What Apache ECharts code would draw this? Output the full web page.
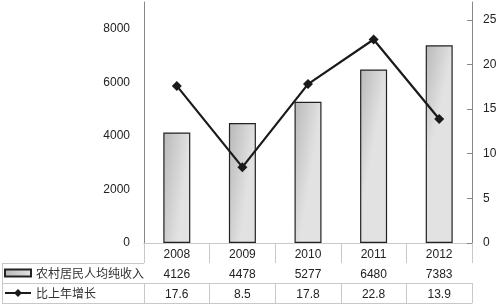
<!DOCTYPE html>
<html><head><meta charset="utf-8">
<script src="https://cdn.jsdelivr.net/npm/echarts@6/dist/echarts.min.js"></script>
<style>html,body{margin:0;padding:0;background:#fff}#c{width:500px;height:305px}</style>
</head><body><div id="c"></div>
<script>
var years = ['2008','2009','2010','2011','2012'];
var income = [4126, 4478, 5277, 6480, 7383];
var growth = [17.6, 8.5, 17.8, 22.8, 13.9];
var leftTicks = [0, 2000, 4000, 6000, 8000];
var rightTicks = [0, 5, 10, 15, 20, 25];
var incomeName = '农村居民人均纯收入';
var growthName = '比上年增长';

var FONT = '"Liberation Sans", Arial, sans-serif';
var CJK = '"Noto Sans CJK SC", sans-serif';
var tableLine = '#c8c8c8';
var chart = echarts.init(document.getElementById('c'), null, {renderer: 'canvas'});

function rowAxis(offset, fmt) {
  return {
    type: 'category', data: years, position: 'bottom', offset: offset, gridIndex: 0,
    axisLine: {show: true, lineStyle: {color: tableLine, width: 1}},
    axisTick: {show: true, interval: 0, length: 20, lineStyle: {color: tableLine}},
    axisLabel: {show: !!fmt, interval: 0, margin: 6, color: '#222', fontSize: 12, fontFamily: FONT,
      formatter: fmt || function (v) { return v; }},
    splitLine: {show: false}
  };
}

var barGrad = new echarts.graphic.LinearGradient(0, 0, 1, 0.03, [
  {offset: 0, color: '#b8b8b8'}, {offset: 1, color: '#e2e2e2'}
]);

var legendText = {fontSize: 12, fontFamily: CJK, color: '#333'};

chart.setOption({
  animation: false,
  grid: {left: 144, right: 28, top: 2, bottom: 62, containLabel: false},
  legend: [
    {orient: 'horizontal', left: 0, top: 267, itemWidth: 26, itemHeight: 7, itemGap: 2, padding: [0, 4],
      textStyle: legendText, data: [{name: incomeName, icon: 'rect'}]},
    {orient: 'horizontal', left: 0, top: 287, itemWidth: 26, itemHeight: 10, itemGap: 2, padding: [0, 4],
      textStyle: legendText, data: [{name: growthName}]}
  ],
  xAxis: [
    rowAxis(0, function (v) { return v; }),
    rowAxis(20, function (v) { return String(income[years.indexOf(v)]); }),
    rowAxis(40, function (v) { return String(growth[years.indexOf(v)]); }),
    {type: 'category', data: years, position: 'bottom', offset: 60,
      axisLine: {show: true, lineStyle: {color: tableLine}}, axisTick: {show: false}, axisLabel: {show: false}}
  ],
  yAxis: [
    {type: 'value', min: 0, max: 9000, interval: 1000, position: 'left',
      axisLine: {show: true, lineStyle: {color: '#888', width: 1}},
      axisTick: {show: false},
      axisLabel: {customValues: leftTicks, margin: 14, color: '#222', fontSize: 12, fontFamily: FONT,
        formatter: function (v) { return String(v); }},
      splitLine: {show: false}},
    {type: 'value', min: 0, max: 27, interval: 1, position: 'right',
      axisLine: {show: true, lineStyle: {color: '#888', width: 1}},
      axisTick: {show: true, inside: true, length: 5, customValues: rightTicks, lineStyle: {color: '#888'}},
      axisLabel: {customValues: rightTicks, margin: 11, color: '#222', fontSize: 12, fontFamily: FONT,
        formatter: function (v) { return String(v); }},
      splitLine: {show: false}}
  ],
  series: [
    {name: incomeName, type: 'bar', xAxisIndex: 0, yAxisIndex: 0, data: income, barWidth: 27,
      itemStyle: {color: barGrad, borderColor: '#222', borderWidth: 1.2}},
    {name: growthName, type: 'line', xAxisIndex: 0, yAxisIndex: 1, data: growth,
      symbol: 'diamond', symbolSize: 10, showSymbol: true,
      lineStyle: {color: '#1a1a1a', width: 2.2}, itemStyle: {color: '#1a1a1a'}}
  ],
  graphic: [
    {type: 'line', shape: {x1: 2, y1: 263.5, x2: 144, y2: 263.5}, style: {stroke: tableLine, lineWidth: 1}},
    {type: 'line', shape: {x1: 2, y1: 283.5, x2: 144, y2: 283.5}, style: {stroke: tableLine, lineWidth: 1}},
    {type: 'line', shape: {x1: 2, y1: 303.5, x2: 144, y2: 303.5}, style: {stroke: tableLine, lineWidth: 1}},
    {type: 'line', shape: {x1: 2.5, y1: 263, x2: 2.5, y2: 304}, style: {stroke: tableLine, lineWidth: 1}}
  ]
});
</script></body></html>
